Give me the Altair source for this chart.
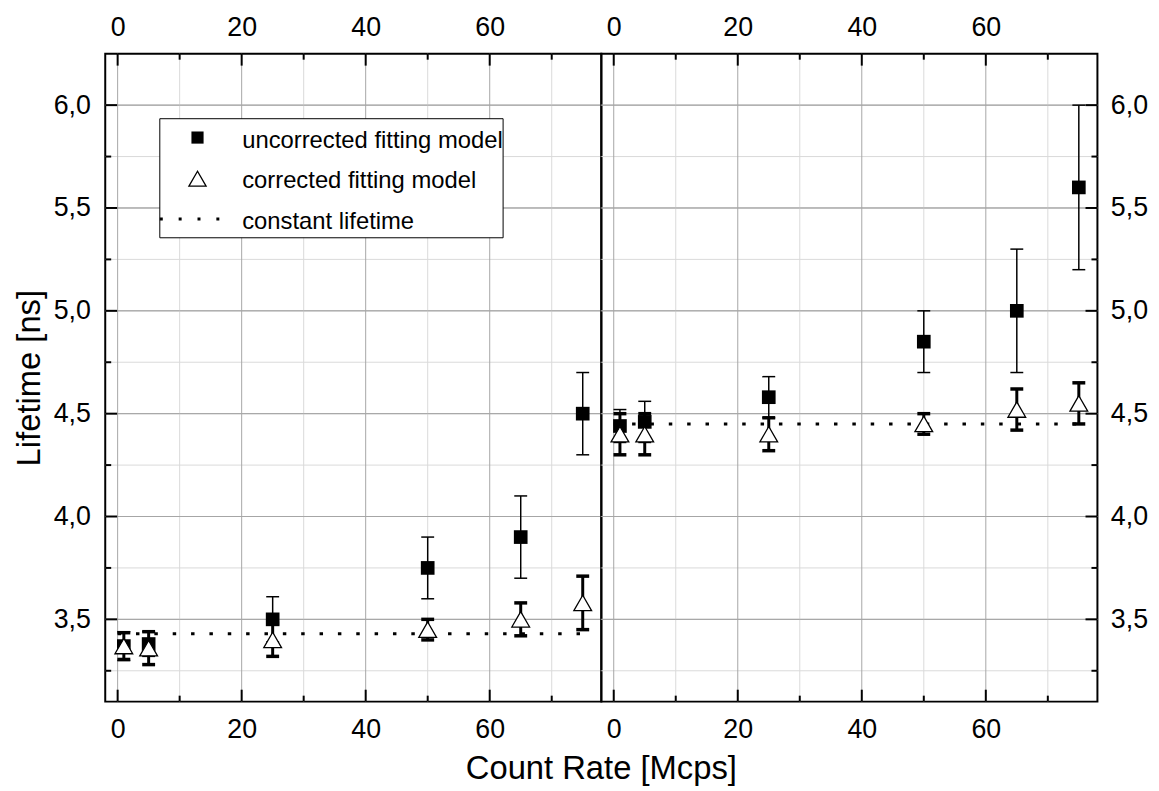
import altair as alt
import pandas as pd

# ---------------- data ----------------
rates = [1, 5, 25, 50, 65, 75]

left_uncorr = [3.37, 3.38, 3.50, 3.75, 3.90, 4.50]
left_uncorr_err = [0.07, 0.06, 0.11, 0.15, 0.20, 0.20]
left_corr = [3.37, 3.36, 3.40, 3.45, 3.50, 3.58]
left_corr_err = [0.065, 0.08, 0.08, 0.05, 0.08, 0.13]
left_const = 3.43

right_uncorr = [4.44, 4.46, 4.58, 4.85, 5.00, 5.60]
right_uncorr_err = [0.08, 0.10, 0.10, 0.15, 0.30, 0.40]
right_corr = [4.40, 4.40, 4.40, 4.45, 4.52, 4.55]
right_corr_err = [0.10, 0.10, 0.08, 0.05, 0.10, 0.10]
right_const = 4.45

const_x = [0, 75]

x_major = [0, 20, 40, 60]
x_minor = [10, 30, 50, 70]
y_major = [3.5, 4.0, 4.5, 5.0, 5.5, 6.0]
y_minor = [3.25, 3.75, 4.25, 4.75, 5.25, 5.75]

legend_labels = ["uncorrected fitting model", "corrected fitting model", "constant lifetime"]
x_title = "Count Rate [Mcps]"
y_title = "Lifetime [ns]"

# ---------------- layout / style ----------------
W, H = 500, 653
X_DOMAIN = [-2, 78]
Y_DOMAIN = [3.1, 6.25]
FONT = "Liberation Sans"
MAJOR_GRID = "#a6a6a6"
MINOR_GRID = "#dadada"
LABEL_EXPR = "replace(format(datum.value, '.1f'), '.', ',')"
TICK_FS = 27
TITLE_FS = 33
LEGEND_FS = 24

xs = alt.Scale(domain=X_DOMAIN, nice=False, zero=False)
ys = alt.Scale(domain=Y_DOMAIN, nice=False, zero=False)

lab = dict(labelFont=FONT, labelFontSize=TICK_FS, labelColor="black",
           ticks=False, domain=False, grid=False)


def vals(v):
    return pd.DataFrame({"v": v})


one = pd.DataFrame({"a": [0]})


def panel(unc, unc_err, cor, cor_err, const, side):
    df = pd.DataFrame({"rate": rates, "unc": unc, "unc_err": unc_err,
                       "cor": cor, "cor_err": cor_err})
    df["unc_lo"] = df["unc"] - df["unc_err"]
    df["unc_hi"] = df["unc"] + df["unc_err"]
    df["cor_lo"] = df["cor"] - df["cor_err"]
    df["cor_hi"] = df["cor"] + df["cor_err"]
    cdf = pd.DataFrame({"rate": const_x, "val": [const] * len(const_x)})

    X = lambda f, axis=None: alt.X(f, scale=xs, axis=axis)
    Y = lambda f, axis=None: alt.Y(f, scale=ys, axis=axis)

    bottom_axis = alt.Axis(orient="bottom", values=x_major, format="d",
                           labelPadding=15, title=None, **lab)
    top_axis = alt.Axis(orient="top", values=x_major, format="d",
                        labelPadding=12, title=None, **lab)
    if side == "left":
        y_axis = alt.Axis(orient="left", values=y_major, labelExpr=LABEL_EXPR,
                          labelPadding=15, title=y_title, titleFont=FONT,
                          titleFontSize=TITLE_FS, titleFontWeight="normal",
                          titleColor="black", titlePadding=7, **lab)
    else:
        y_axis = alt.Axis(orient="right", values=y_major, labelExpr=LABEL_EXPR,
                          labelPadding=13, title=None, **lab)

    layers = []
    # grid (first layer carries the y axis)
    layers.append(alt.Chart(vals(y_major)).mark_rule(color=MAJOR_GRID, strokeWidth=1)
                  .encode(y=Y("v:Q", y_axis)))
    layers.append(alt.Chart(vals(x_minor)).mark_rule(color=MINOR_GRID, strokeWidth=1)
                  .encode(x=X("v:Q")))
    layers.append(alt.Chart(vals(y_minor)).mark_rule(color=MINOR_GRID, strokeWidth=1)
                  .encode(y=Y("v:Q")))
    layers.append(alt.Chart(vals(x_major)).mark_rule(color=MAJOR_GRID, strokeWidth=1)
                  .encode(x=X("v:Q", bottom_axis)))
    layers.append(alt.Chart(vals(y_major)).mark_rule(color=MAJOR_GRID, strokeWidth=1)
                  .encode(y=Y("v:Q")))
    # inward ticks (x: top and bottom)
    layers.append(alt.Chart(vals(x_major)).mark_rule(color="black", strokeWidth=2)
                  .encode(x=X("v:Q", top_axis), y=alt.value(0), y2=alt.value(12)))
    layers.append(alt.Chart(vals(x_major)).mark_rule(color="black", strokeWidth=2)
                  .encode(x=X("v:Q"), y=alt.value(H), y2=alt.value(H - 12)))
    layers.append(alt.Chart(vals(x_minor)).mark_rule(color="black", strokeWidth=2)
                  .encode(x=X("v:Q"), y=alt.value(0), y2=alt.value(6)))
    layers.append(alt.Chart(vals(x_minor)).mark_rule(color="black", strokeWidth=2)
                  .encode(x=X("v:Q"), y=alt.value(H), y2=alt.value(H - 6)))
    # inward ticks (y)
    if side == "left":
        layers.append(alt.Chart(vals(y_major)).mark_rule(color="black", strokeWidth=2)
                      .encode(y=Y("v:Q"), x=alt.value(0), x2=alt.value(12)))
        layers.append(alt.Chart(vals(y_minor)).mark_rule(color="black", strokeWidth=2)
                      .encode(y=Y("v:Q"), x=alt.value(0), x2=alt.value(6)))
    else:
        layers.append(alt.Chart(vals(y_major)).mark_rule(color="black", strokeWidth=2)
                      .encode(y=Y("v:Q"), x=alt.value(W), x2=alt.value(W - 12)))
        layers.append(alt.Chart(vals(y_minor)).mark_rule(color="black", strokeWidth=2)
                      .encode(y=Y("v:Q"), x=alt.value(W), x2=alt.value(W - 6)))

    # legend (left panel only) - drawn before the data
    if side == "left":
        layers.append(alt.Chart(one).mark_rect(fill="white", stroke="black", strokeWidth=1)
                      .encode(x=alt.value(55), x2=alt.value(401),
                              y=alt.value(65.5), y2=alt.value(185.5)))
        layers.append(alt.Chart(one).mark_square(size=150, color="black", opacity=1)
                      .encode(x=alt.value(93), y=alt.value(84.5)))
        layers.append(alt.Chart(one).mark_point(shape="triangle-up", size=300, filled=True,
                                                fill="white", stroke="black", strokeWidth=1.3,
                                                opacity=1)
                      .encode(x=alt.value(93), y=alt.value(126)))
        layers.append(alt.Chart(one).mark_rule(color="black", strokeWidth=3,
                                               strokeDash=[3, 16])
                      .encode(x=alt.value(55), x2=alt.value(131), y=alt.value(166.5)))
        for lbl, py in zip(legend_labels, [88, 128.5, 170]):
            layers.append(alt.Chart(one).mark_text(align="left", baseline="middle",
                                                   font=FONT, fontSize=LEGEND_FS, color="black")
                          .encode(x=alt.value(138), y=alt.value(py), text=alt.value(lbl)))
        # x-axis title centred below both panels
        layers.append(alt.Chart(one).mark_text(align="center", baseline="middle",
                                               font=FONT, fontSize=TITLE_FS, color="black")
                      .encode(x=alt.value(W), y=alt.value(H + 68), text=alt.value(x_title)))

    # constant lifetime (dotted)
    layers.append(alt.Chart(cdf).mark_line(color="black", strokeWidth=3,
                                           strokeDash=[3.5, 15], strokeCap="butt")
                  .encode(x=X("rate:Q"), y=Y("val:Q")))
    # uncorrected: thin error bars + squares
    layers.append(alt.Chart(df).mark_rule(color="black", strokeWidth=1.5)
                  .encode(x=X("rate:Q"), y=Y("unc_lo:Q"), y2="unc_hi:Q"))
    for f in ["unc_lo", "unc_hi"]:
        layers.append(alt.Chart(df).mark_tick(orient="horizontal", size=13, thickness=1.5,
                                              color="black", opacity=1)
                      .encode(x=X("rate:Q"), y=Y(f + ":Q")))
    layers.append(alt.Chart(df).mark_square(size=190, color="black", opacity=1)
                  .encode(x=X("rate:Q"), y=Y("unc:Q")))
    # corrected: thick error bars + open triangles
    layers.append(alt.Chart(df).mark_rule(color="black", strokeWidth=3)
                  .encode(x=X("rate:Q"), y=Y("cor_lo:Q"), y2="cor_hi:Q"))
    for f in ["cor_lo", "cor_hi"]:
        layers.append(alt.Chart(df).mark_tick(orient="horizontal", size=13, thickness=3.5,
                                              color="black", opacity=1)
                      .encode(x=X("rate:Q"), y=Y(f + ":Q")))
    layers.append(alt.Chart(df).mark_point(shape="triangle-up", size=320, filled=True,
                                           fill="white", stroke="black", strokeWidth=1.3,
                                           opacity=1)
                  .encode(x=X("rate:Q"), y=Y("cor:Q")))

    return (alt.layer(*layers)
            .resolve_axis(x="independent", y="independent")
            .properties(width=W, height=H))


left = panel(left_uncorr, left_uncorr_err, left_corr, left_corr_err, left_const, "left")
right = panel(right_uncorr, right_uncorr_err, right_corr, right_corr_err, right_const, "right")

chart = (
    alt.hconcat(left, right, spacing=0, bounds="flush")
    .configure(font=FONT, view=alt.ViewConfig(stroke="black", strokeWidth=2))
    .properties(padding={"left": 4, "top": 2, "right": 2, "bottom": 0}, background="white")
)

chart.save("out.html", embed_options={"renderer": "svg", "actions": False})
